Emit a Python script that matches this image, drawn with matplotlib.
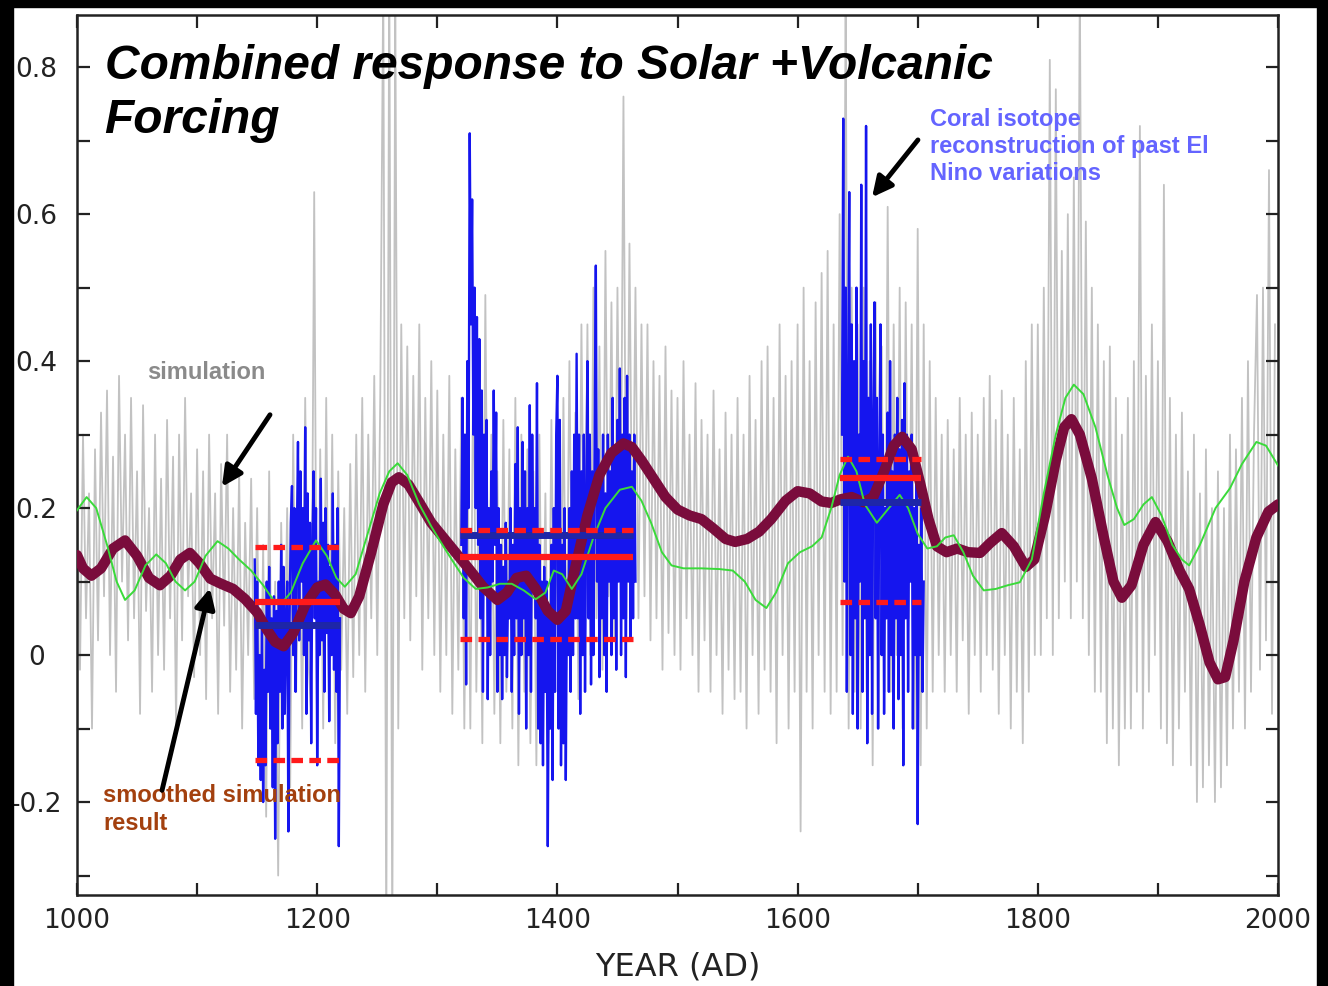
import numpy as np
import matplotlib
matplotlib.use("Agg")
import matplotlib.pyplot as plt
from matplotlib.patches import Rectangle

plt.rcParams["axes.unicode_minus"] = False

# simulated index, one value every 2.5 years from 1000 AD
sim_start, sim_step = 1000, 2.5
sim_values = [
    0.25, -0.02, 0.30, 0.05, 0.22, -0.10, 0.28, 0.02, 0.33, 0.08,
    0.36, 0.00, 0.27, -0.05, 0.38, 0.10, 0.30, 0.02, 0.35, 0.05,
    0.25, -0.08, 0.34, 0.06, 0.20, -0.05, 0.30, 0.00, 0.24, -0.02,
    0.32, 0.05, 0.27, -0.10, 0.30, 0.02, 0.35, 0.08, 0.22, -0.03,
    0.28, 0.00, 0.25, -0.06, 0.30, 0.05, 0.22, -0.08, 0.26, 0.04,
    0.30, -0.05, 0.20, -0.02, 0.25, -0.10, 0.18, 0.00, 0.24, -0.06,
    0.20, -0.15, 0.15, -0.22, 0.25, -0.12, 0.10, -0.30, 0.18, -0.05,
    0.20, -0.18, 0.30, -0.05, 0.22, -0.10, 0.35, 0.00, -0.08, 0.63,
    -0.15, 0.28, -0.10, 0.35, -0.08, 0.30, -0.12, 0.25, -0.02, 0.20,
    -0.08, 0.26, -0.03, 0.30, 0.00, 0.35, -0.05, 0.30, 0.05, 0.38,
    0.00, 0.35, 0.92, -0.40, 0.95, -0.40, 0.90, -0.10, 0.45, 0.05,
    0.42, 0.02, 0.38, 0.08, 0.45, -0.02, 0.35, 0.05, 0.40, 0.00,
    0.36, -0.05, 0.30, 0.00, 0.38, -0.08, 0.28, -0.02, 0.35, -0.10,
    0.30, -0.10, 0.42, -0.05, 0.28, -0.12, 0.49, 0.00, 0.30, -0.08,
    0.25, -0.12, 0.32, -0.05, 0.28, -0.10, 0.35, -0.15, 0.30, -0.05,
    0.28, -0.12, 0.25, -0.15, 0.30, -0.08, 0.22, -0.12, 0.32, -0.05,
    0.30, -0.10, 0.35, -0.02, 0.40, 0.00, 0.33, -0.06, 0.45, 0.05,
    0.45, 0.00, 0.50, 0.05, 0.42, -0.02, 0.55, 0.08, 0.48, 0.02,
    0.50, 0.10, 0.76, 0.05, 0.56, 0.10, 0.50, 0.05, 0.45, 0.08,
    0.45, 0.02, 0.40, 0.05, 0.38, -0.02, 0.42, 0.03, 0.36, 0.00,
    0.35, -0.02, 0.40, 0.05, 0.30, 0.00, 0.37, -0.05, 0.32, 0.02,
    0.30, -0.05, 0.36, 0.00, 0.28, -0.08, 0.33, -0.02, 0.30, -0.06,
    0.35, -0.05, 0.30, -0.10, 0.38, 0.00, 0.32, -0.08, 0.40, -0.02,
    0.42, -0.05, 0.35, -0.12, 0.45, 0.00, 0.38, -0.10, 0.40, -0.05,
    0.45, -0.24, 0.50, -0.05, 0.40, -0.10, 0.48, 0.00, 0.52, -0.05,
    0.55, -0.08, 0.45, -0.05, 0.60, 0.00, 0.90, -0.10, 0.50, -0.05,
    0.45, -0.10, 0.50, -0.05, 0.40, -0.15, 0.48, -0.10, 0.42, -0.05,
    0.61, -0.05, 0.45, 0.00, 0.50, -0.10, 0.48, 0.05, 0.45, -0.10,
    0.58, -0.15, 0.45, -0.10, 0.40, -0.05, 0.35, 0.00, 0.30, -0.05,
    0.32, 0.00, 0.28, -0.05, 0.35, 0.02, 0.30, -0.08, 0.33, 0.00,
    0.30, -0.05, 0.35, 0.00, 0.38, -0.02, 0.32, -0.08, 0.36, 0.00,
    0.30, -0.10, 0.35, -0.05, 0.28, -0.12, 0.40, -0.05, 0.45, 0.00,
    0.45, 0.00, 0.50, 0.05, 0.81, 0.00, 0.77, 0.05, 0.55, 0.10,
    0.60, 0.05, 0.65, 0.10, 0.92, 0.05, 0.59, 0.00, 0.50, -0.05,
    0.45, -0.05, 0.40, -0.12, 0.42, -0.10, 0.35, -0.15, 0.30, -0.10,
    0.35, -0.10, 0.40, -0.05, 0.72, -0.10, 0.38, -0.05, 0.45, 0.00,
    0.40, -0.10, 0.64, -0.12, 0.35, -0.15, 0.30, -0.10, 0.33, -0.05,
    0.25, -0.15, 0.30, -0.20, 0.22, -0.18, 0.28, -0.15, 0.20, -0.20,
    0.25, -0.18, 0.20, -0.15, 0.30, -0.10, 0.28, -0.05, 0.35, -0.10,
    0.40, -0.05, 0.30, 0.49, -0.02, 0.50, 0.02, 0.66, -0.08, 0.45,
]

# smoothed simulation (maroon)
smooth_years = [
    1000, 1005, 1012, 1020, 1030, 1040, 1050, 1060, 1069, 1078, 1086, 1094,
    1102, 1111, 1120, 1130, 1140, 1150, 1158, 1165, 1172, 1180, 1190, 1200,
    1207, 1215, 1222, 1228, 1235, 1245, 1255, 1262, 1268, 1276, 1286, 1295,
    1305, 1315, 1327, 1338, 1350, 1358, 1366, 1374, 1382, 1392, 1400, 1407,
    1415, 1425, 1435, 1445, 1455, 1462, 1470, 1480, 1490, 1500, 1510, 1520,
    1530, 1540, 1548, 1558, 1568, 1578, 1590, 1600, 1610, 1620, 1628, 1636,
    1645, 1655, 1663, 1672, 1680, 1687, 1695, 1702, 1709, 1716, 1724, 1733,
    1742, 1752, 1760, 1770, 1780, 1790, 1797, 1806, 1815, 1822, 1828, 1835,
    1845, 1855, 1863, 1870, 1878, 1888, 1898, 1908, 1918, 1926, 1935, 1943,
    1950, 1956, 1963, 1972, 1982, 1992, 2000,
]
smooth_values = [
    0.136, 0.118, 0.108, 0.118, 0.145, 0.156, 0.135, 0.105, 0.095, 0.108, 0.130, 0.139,
    0.125, 0.104, 0.097, 0.090, 0.076, 0.058, 0.035, 0.018, 0.012, 0.030, 0.068, 0.092,
    0.096, 0.082, 0.063, 0.057, 0.080, 0.140, 0.205, 0.235, 0.242, 0.232, 0.205, 0.180,
    0.160, 0.140, 0.116, 0.093, 0.075, 0.085, 0.105, 0.108, 0.090, 0.060, 0.048, 0.060,
    0.120, 0.190, 0.245, 0.275, 0.288, 0.283, 0.265, 0.240, 0.215, 0.198, 0.190, 0.185,
    0.172, 0.158, 0.154, 0.158, 0.168, 0.185, 0.210, 0.223, 0.220, 0.209, 0.207, 0.212,
    0.215, 0.208, 0.215, 0.250, 0.285, 0.297, 0.280, 0.234, 0.185, 0.148, 0.140, 0.145,
    0.140, 0.139, 0.152, 0.166, 0.148, 0.120, 0.130, 0.190, 0.265, 0.310, 0.321, 0.300,
    0.240, 0.160, 0.100, 0.078, 0.095, 0.150, 0.181, 0.155, 0.115, 0.090, 0.040, -0.010,
    -0.033, -0.030, 0.020, 0.100, 0.160, 0.195, 0.205,
]

# second smoothed curve (green)
green_years = [
    1000, 1008, 1016, 1025, 1033, 1040, 1048, 1057, 1066, 1074, 1082, 1090,
    1098, 1107, 1117, 1126, 1135, 1145, 1155, 1163, 1170, 1178, 1188, 1199,
    1208, 1216, 1223, 1232, 1242, 1252, 1260, 1267, 1275, 1285, 1295, 1302,
    1312, 1322, 1332, 1342, 1352, 1362, 1372, 1382, 1390, 1397, 1404, 1412,
    1420, 1430, 1440, 1452, 1462, 1470, 1478, 1487, 1495, 1505, 1520, 1535,
    1546, 1556, 1565, 1574, 1582, 1592, 1602, 1612, 1620, 1628, 1635, 1642,
    1649, 1656, 1666, 1676, 1685, 1692, 1700, 1708, 1716, 1723, 1730, 1738,
    1746, 1755, 1765, 1775, 1785, 1795, 1805, 1815, 1823, 1830, 1838, 1848,
    1858, 1866, 1872, 1880, 1888, 1895, 1903, 1912, 1920, 1926, 1935, 1948,
    1960, 1970, 1982, 1990, 2000,
]
green_values = [
    0.197, 0.215, 0.200, 0.150, 0.100, 0.075, 0.088, 0.122, 0.137, 0.125, 0.100, 0.088,
    0.100, 0.135, 0.155, 0.145, 0.130, 0.115, 0.095, 0.076, 0.070, 0.085, 0.125, 0.156,
    0.135, 0.105, 0.093, 0.110, 0.165, 0.220, 0.250, 0.261, 0.245, 0.205, 0.175, 0.156,
    0.130, 0.105, 0.090, 0.092, 0.097, 0.097, 0.088, 0.076, 0.085, 0.115, 0.110, 0.090,
    0.110, 0.160, 0.200, 0.225, 0.229, 0.210, 0.180, 0.140, 0.122, 0.118, 0.118, 0.117,
    0.115, 0.100, 0.075, 0.064, 0.085, 0.125, 0.140, 0.148, 0.160, 0.200, 0.245, 0.270,
    0.250, 0.205, 0.180, 0.200, 0.218, 0.200, 0.165, 0.145, 0.148, 0.160, 0.163, 0.140,
    0.108, 0.088, 0.090, 0.095, 0.099, 0.130, 0.220, 0.300, 0.350, 0.368, 0.355, 0.310,
    0.245, 0.200, 0.177, 0.185, 0.205, 0.215, 0.190, 0.150, 0.130, 0.122, 0.150, 0.200,
    0.227, 0.260, 0.290, 0.285, 0.258,
]

# coral isotope records, annual, three windows
coral1_start = 1148
coral1 = [
    0.13, -0.08, 0.10, -0.15, 0.00, -0.17, 0.05, -0.20, -0.02, -0.15,
    0.10, -0.05, 0.12, -0.10, 0.05, -0.18, 0.08, -0.25, 0.06, -0.12,
    0.10, -0.05, 0.15, -0.10, 0.12, -0.08, 0.05, 0.10, -0.24, 0.05,
    0.18, 0.23, 0.00, 0.20, -0.05, 0.15, 0.29, 0.02, 0.25, 0.10,
    0.20, 0.00, 0.31, -0.08, 0.22, 0.02, 0.18, -0.12, 0.15, 0.25,
    0.05, 0.20, -0.15, 0.10, 0.00, 0.24, 0.02, 0.18, -0.05, 0.20,
    0.03, 0.15, -0.09, 0.12, 0.00, 0.22, -0.02, 0.15, -0.05, 0.20,
    -0.26, 0.05,
]
coral2_start = 1320
coral2 = [
    0.15, 0.35, 0.05, 0.30, -0.04, 0.40, 0.20, 0.71, 0.45, 0.62,
    0.30, 0.50, 0.20, 0.46, 0.15, 0.43, 0.05, 0.36, -0.05, 0.30,
    0.10, 0.32, -0.06, 0.20, 0.00, 0.25, 0.10, 0.36, 0.15, 0.33,
    -0.05, 0.20, 0.00, 0.15, -0.06, 0.12, 0.00, 0.18, -0.03, 0.10,
    0.05, 0.20, -0.05, 0.15, 0.00, 0.26, 0.05, 0.31, -0.08, 0.20,
    0.00, 0.29, 0.05, 0.25, -0.10, 0.20, 0.00, 0.34, -0.05, 0.30,
    0.10, 0.20, 0.05, 0.37, -0.10, 0.15, -0.12, 0.10, -0.15, 0.12,
    -0.05, 0.10, -0.26, 0.05, -0.10, 0.15, -0.17, 0.20, -0.05, 0.30,
    0.38, -0.10, 0.32, -0.15, 0.15, -0.12, 0.20, -0.17, 0.10, 0.00,
    0.20, -0.05, 0.25, 0.00, 0.30, 0.05, 0.41, 0.05, 0.30, -0.08,
    0.25, 0.00, 0.30, -0.05, 0.20, 0.40, 0.05, 0.30, -0.04, 0.25,
    0.00, 0.30, 0.53, 0.10, 0.28, -0.03, 0.25, 0.05, 0.30, 0.00,
    0.22, -0.05, 0.30, 0.10, 0.25, 0.00, 0.35, 0.05, 0.28, -0.02,
    0.32, 0.10, 0.39, 0.00, 0.30, 0.05, 0.35, -0.03, 0.38, 0.10,
    0.30, 0.02, 0.25, 0.05, 0.30, 0.10,
]
coral3_start = 1637
coral3 = [
    0.30, 0.73, 0.10, 0.50, -0.05, 0.35, 0.63, 0.00, 0.45, -0.08,
    0.40, 0.05, 0.50, -0.10, 0.30, 0.10, 0.64, -0.05, 0.40, 0.05,
    0.72, -0.12, 0.35, 0.00, 0.45, -0.08, 0.30, 0.48, 0.05, 0.35,
    -0.10, 0.25, 0.45, 0.00, 0.30, -0.08, 0.20, 0.05, 0.33, -0.05,
    0.40, 0.00, 0.25, -0.10, 0.30, 0.05, 0.35, -0.06, 0.28, 0.00,
    0.32, -0.15, 0.37, 0.05, 0.30, -0.05, 0.25, 0.10, 0.30, -0.10,
    0.20, 0.00, 0.25, -0.23, 0.15, 0.00, 0.20, -0.05, 0.10,
]

# statistics over each coral window
win_start = [1148, 1319, 1635]
win_end = [1219, 1463, 1703]
red_mean = [0.072, 0.133, 0.241]
red_upper = [0.147, 0.170, 0.267]
red_lower = [-0.143, 0.022, 0.072]
blue_mean = [0.041, 0.163, 0.208]

title_lines = ["Combined response to Solar +Volcanic", "Forcing"]

fig = plt.figure(figsize=(13.28, 9.86), dpi=100)
ax = fig.add_axes([77 / 1328, 1 - 895 / 986, 1201 / 1328, 880 / 986])

sim_years = sim_start + sim_step * np.arange(len(sim_values))
ax.plot(sim_years, sim_values, color="#c2c2c2", lw=1.3, zorder=1)

for start, vals in [(coral1_start, coral1), (coral2_start, coral2), (coral3_start, coral3)]:
    yrs = start + np.arange(len(vals))
    ax.plot(yrs, vals, color="#1515ee", lw=1.7, zorder=2)

ax.plot(smooth_years, smooth_values, color="#7a0c3c", lw=7.5, solid_capstyle="round",
        solid_joinstyle="round", zorder=3)
ax.plot(green_years, green_values, color="#3ada3a", lw=1.4, zorder=4)

ax.hlines(blue_mean, win_start, win_end, color="#1e26a8", lw=5, zorder=5)
ax.hlines(red_mean, win_start, win_end, color="#ff1a1a", lw=4.5, zorder=6)
ax.hlines(red_upper, win_start, win_end, color="#ff1a1a", lw=3.8,
          linestyles=(0, (2.2, 1.2)), zorder=6)
ax.hlines(red_lower, win_start, win_end, color="#ff1a1a", lw=3.8,
          linestyles=(0, (2.2, 1.2)), zorder=6)

ax.set_xlim(1000, 2000)
ax.set_ylim(-0.3265, 0.871)

ax.set_xticks(np.arange(1000, 2001, 200))
ax.set_xticks(np.arange(1100, 2000, 200), minor=True)
ax.set_yticks([-0.2, 0, 0.2, 0.4, 0.6, 0.8])
ax.set_yticklabels(["-0.2", "0", "0.2", "0.4", "0.6", "0.8"])
ax.set_yticks([-0.3, -0.1, 0.1, 0.3, 0.5, 0.7], minor=True)
ax.tick_params(which="both", direction="in", length=9, width=1.6, top=True, right=True,
               color="#222222")
ax.tick_params(axis="x", pad=9, labelsize=19, labelcolor="#222222")
ax.tick_params(axis="y", pad=29, labelsize=19, labelcolor="#222222")
for lab in ax.get_yticklabels():
    lab.set_horizontalalignment("center")
for sp in ax.spines.values():
    sp.set_linewidth(1.8)
    sp.set_color("#222222")

ax.set_xlabel("YEAR (AD)", fontsize=23, color="#222222", labelpad=13)

# two-line heading, one text per line
for line, y in zip(title_lines, [0.784, 0.710]):
    ax.text(1023, y, line, fontsize=34.5, fontweight="bold", fontstyle="italic",
            family="Liberation Sans", va="baseline", ha="left", zorder=10)
ax.text(1058, 0.384, "simulation", fontsize=17, fontweight="bold", color="#8a8a8a",
        family="Liberation Sans", va="center", ha="left", zorder=10)
ax.text(1022, -0.176, "smoothed simulation\nresult", fontsize=17, fontweight="bold",
        color="#a3400e", family="Liberation Sans", va="top", ha="left",
        linespacing=1.28, zorder=10)
ax.text(1710, 0.744, "Coral isotope\nreconstruction of past El\nNino variations",
        fontsize=17, fontweight="bold", color="#6464ff", family="Liberation Sans",
        va="top", ha="left", linespacing=1.22, zorder=10)

arrow = dict(arrowstyle="-|>", color="black", lw=3.5, mutation_scale=30,
             shrinkA=0, shrinkB=0)
ax.annotate("", xy=(1120.7, 0.229), xytext=(1160.7, 0.327), arrowprops=arrow, zorder=10)
ax.annotate("", xy=(1110.7, 0.091), xytext=(1070.8, -0.184), arrowprops=arrow, zorder=10)
ax.annotate("", xy=(1662, 0.623), xytext=(1700.2, 0.701), arrowprops=arrow, zorder=10)

# black frame around the slide
for x0, y0, w, h in [(0, 1 - 7 / 986, 1, 7 / 986), (0, 0, 13 / 1328, 1),
                     (1317 / 1328, 0, 11 / 1328, 1)]:
    fig.patches.append(Rectangle((x0, y0), w, h, transform=fig.transFigure,
                                 color="black", zorder=20))

fig.savefig("out.png", dpi=100)
